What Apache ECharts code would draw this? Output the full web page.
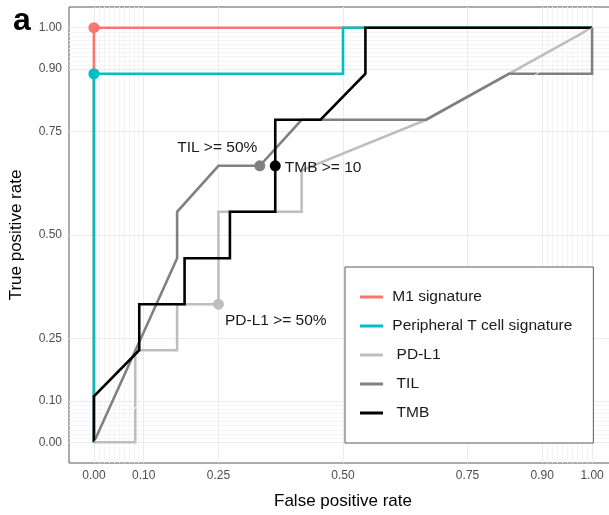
<!DOCTYPE html>
<html>
<head>
<meta charset="utf-8">
<script src="https://cdn.jsdelivr.net/npm/echarts@6/dist/echarts.min.js"></script>
<style>
html,body{margin:0;padding:0;background:#fff;overflow:hidden;}
#chart{width:620px;height:515px;}
</style>
</head>
<body>
<div id="chart"></div>
<script>
// ROC curves, values
var names = ['M1 signature', 'Peripheral T cell signature', ' PD-L1', ' TIL', ' TMB'];
var colors = ['#F8766D', '#00BFC4', '#BEBEBE', '#808080', '#000000'];

var m1_fpr = [0, 0, 1];
var m1_tpr = [0, 1, 1];
var ptc_fpr = [0, 0, 0.5, 0.5, 1];
var ptc_tpr = [0, 0.889, 0.889, 1, 1];
var pdl1_fpr = [0, 0.083, 0.083, 0.167, 0.167, 0.25, 0.25, 0.417, 0.417, 0.667, 1];
var pdl1_tpr = [0, 0, 0.222, 0.222, 0.333, 0.333, 0.556, 0.556, 0.656, 0.778, 1];
var til_fpr = [0, 0.167, 0.167, 0.25, 0.333, 0.417, 0.667, 0.833, 1, 1];
var til_tpr = [0, 0.444, 0.556, 0.667, 0.667, 0.778, 0.778, 0.889, 0.889, 1];
var tmb_fpr = [0, 0, 0.091, 0.091, 0.182, 0.182, 0.273, 0.273, 0.364, 0.364, 0.455, 0.545, 0.545, 1];
var tmb_tpr = [0, 0.111, 0.222, 0.333, 0.333, 0.444, 0.444, 0.556, 0.556, 0.778, 0.778, 0.889, 1, 1];

// cut-off points
var cut_fpr = [0, 0, 0.25, 0.333, 0.364];
var cut_tpr = [1, 0.889, 0.333, 0.667, 0.667];
var cut_text = ['', '', 'PD-L1 >= 50%', 'TIL >= 50%', 'TMB >= 10'];

var ticks = [0, 0.1, 0.25, 0.5, 0.75, 0.9, 1];
var minor = [0.01, 0.02, 0.03, 0.04, 0.05, 0.06, 0.07, 0.08, 0.09,
             0.91, 0.92, 0.93, 0.94, 0.95, 0.96, 0.97, 0.98, 0.99];

var FONT = "'Liberation Sans', Arial, sans-serif";

function pairs(xs, ys){
	var out = [];
	for (var i = 0; i < xs.length; i++) out.push([xs[i], ys[i]]);
	return out;
}

function gridLines(vals, color, z){
	var d = [];
	vals.forEach(function(v){ d.push({xAxis: v}); d.push({yAxis: v}); });
	return {
		type: 'line', data: [], z: z, silent: true,
		markLine: {
			silent: true, symbol: ['none', 'none'], animation: false, z: z,
			label: {show: false},
			lineStyle: {color: color, width: 1, type: 'solid'},
			emphasis: {disabled: true},
			data: d
		}
	};
}

var curves = [
	pairs(m1_fpr, m1_tpr),
	pairs(ptc_fpr, ptc_tpr),
	pairs(pdl1_fpr, pdl1_tpr),
	pairs(til_fpr, til_tpr),
	pairs(tmb_fpr, tmb_tpr)
];

var series = [gridLines(minor, '#f4f4f4', 1), gridLines(ticks, '#ebebeb', 2)];

curves.forEach(function(c, i){
	series.push({
		name: names[i], type: 'line', data: c, symbol: 'none',
		color: colors[i], z: 3 + i,
		lineStyle: {width: 2.6, color: colors[i], join: 'miter'},
		emphasis: {disabled: true}
	});
});

// white diagonal reference line
series.push({
	type: 'line', data: [[0, 0], [1, 1]], symbol: 'none', z: 9, silent: true,
	lineStyle: {color: '#ffffff', width: 1}
});

var labelPos = [
	null, null,
	{position: 'right', distance: 1, offset: [0, 16]},
	{position: 'left', distance: -3, offset: [0, -18]},
	{position: 'right', distance: 4, offset: [0, 2]}
];

var dots = [];
for (var i = 0; i < cut_fpr.length; i++){
	var item = {value: [cut_fpr[i], cut_tpr[i]], itemStyle: {color: colors[i], opacity: 1}};
	if (cut_text[i]){
		item.label = Object.assign({show: true, formatter: cut_text[i],
			color: '#1a1a1a', fontSize: 15.5, fontFamily: FONT}, labelPos[i]);
	}
	dots.push(item);
}
series.push({type: 'scatter', data: dots, symbolSize: 11, z: 10, silent: true});

var chart = echarts.init(document.getElementById('chart'), null, {renderer: 'canvas'});
chart.setOption({
	animation: false,
	backgroundColor: '#ffffff',
	textStyle: {fontFamily: FONT},
	grid: {left: 69, top: 7, width: 548, height: 459, show: true,
		borderColor: '#595959', borderWidth: 1, backgroundColor: '#ffffff'},
	xAxis: {
		type: 'value', min: -0.05, max: 1.05,
		name: 'False positive rate', nameLocation: 'middle', nameGap: 30,
		nameTextStyle: {fontSize: 17, color: '#000', fontFamily: FONT},
		axisLine: {show: false},
		splitLine: {show: false},
		axisTick: {show: true, length: 4, customValues: ticks, lineStyle: {color: '#333'}},
		axisLabel: {customValues: ticks, margin: 7, fontSize: 12, color: '#4d4d4d', fontFamily: FONT,
			formatter: function(v){ return v.toFixed(2); }}
	},
	yAxis: {
		type: 'value', min: -0.05, max: 1.05,
		name: 'True positive rate', nameLocation: 'middle', nameGap: 44,
		nameTextStyle: {fontSize: 17, color: '#000', fontFamily: FONT},
		axisLine: {show: false},
		splitLine: {show: false},
		axisTick: {show: true, length: 4, customValues: ticks, lineStyle: {color: '#333'}},
		axisLabel: {customValues: ticks, margin: 7, fontSize: 12, color: '#4d4d4d', fontFamily: FONT,
			formatter: function(v){ return v.toFixed(2); }}
	},
	legend: {
		data: names, orient: 'vertical', left: 345, top: 267, z: 20,
		padding: [22, 21, 22, 15], itemGap: 13,
		itemWidth: 23, itemHeight: 3, icon: 'rect',
		borderColor: '#595959', borderWidth: 1, backgroundColor: '#ffffff',
		selectedMode: false,
		formatter: function(n){ return ' ' + n; },
		textStyle: {fontSize: 15.5, color: '#1a1a1a', fontFamily: FONT}
	},
	graphic: [{
		type: 'text', left: 13, top: 5,
		style: {text: 'a', font: "bold 32px 'Liberation Sans', Arial, sans-serif", fill: '#000'}
	}],
	series: series
});
</script>
</body>
</html>
